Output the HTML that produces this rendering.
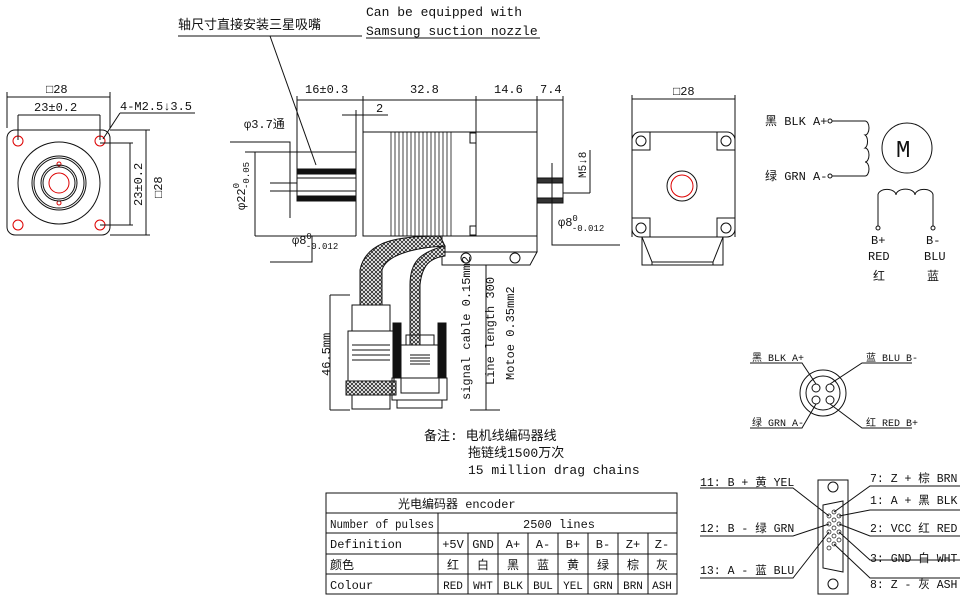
<!DOCTYPE html><html><head><meta charset="utf-8"><style>body{margin:0;background:#fff}svg{display:block}text{font-family:"Liberation Mono","Noto Sans CJK SC",monospace;fill:#111}</style></head><body>
<svg width="965" height="596" viewBox="0 0 965 596" xmlns="http://www.w3.org/2000/svg" stroke="#111" fill="none" stroke-width="1">
<defs><pattern id="h" width="4" height="4" patternUnits="userSpaceOnUse"><rect width="4" height="4" fill="#fff" stroke="none"/><path d="M0 0L4 4M4 0L0 4" stroke="#222" stroke-width="0.8"/></pattern></defs>
<text x="178" y="29" font-size="13" stroke="none">轴尺寸直接安装三星吸嘴</text>
<path d="M178 36H362"/>
<text x="366" y="16" font-size="13" stroke="none">Can be equipped with</text>
<text x="366" y="35" font-size="13" stroke="none">Samsung suction nozzle</text>
<path d="M366 38H540"/>
<path d="M270 36L316 165"/>
<rect x="7" y="130" width="103" height="105" rx="8"/>
<g stroke="#d00"><circle cx="18" cy="141" r="5"/><circle cx="100" cy="141" r="5"/><circle cx="18" cy="225" r="5"/><circle cx="100" cy="225" r="5"/><circle cx="59" cy="183" r="10"/><circle cx="59" cy="164" r="2"/><circle cx="59" cy="203" r="2"/></g>
<circle cx="59" cy="183" r="41"/><circle cx="59" cy="183" r="27"/><circle cx="59" cy="183" r="25"/><circle cx="59" cy="183" r="18"/><circle cx="59" cy="183" r="16"/>
<path d="M7 92V128M110 92V128M7 97H110M18 115V140M100 115V140M18 115H100M100 143H133M100 225H133M130 143V225M110 130H150M110 235H150M146 130V235"/>
<text x="46" y="93" font-size="12" stroke="none">□28</text>
<text x="34" y="111" font-size="12" stroke="none">23±0.2</text>
<text x="120" y="110" font-size="12" stroke="none">4-M2.5↓3.5</text>
<path d="M120 113H195M120 113L103 139"/>
<text transform="translate(142,206) rotate(-90)" font-size="12" stroke="none">23±0.2</text>
<text transform="translate(162,198) rotate(-90)" font-size="12" stroke="none">□28</text>
<rect x="363" y="132" width="174" height="104"/>
<rect x="363" y="132" width="113" height="104"/>
<g stroke-width="0.8"><path d="M391 132V236M395 132V236M399 132V236M403 132V236M407 132V236M411 132V236M415 132V236M419 132V236M423 132V236M427 132V236M431 132V236M435 132V236M439 132V236M443 132V236M447 132V236M451 132V236"/></g>
<rect x="470" y="133" width="6" height="10"/><rect x="470" y="226" width="6" height="9"/>
<path d="M356 143V236"/>
<rect x="297" y="169" width="59" height="5" fill="#111"/><rect x="297" y="196" width="59" height="5" fill="#111"/>
<path d="M297 169V201M297 178H356M297 191H356M230 142H290V218M245 152H356M255 152V236M255 236H356M270 183H297M270 191H297"/>
<rect x="537" y="178" width="26" height="5" fill="#333"/><rect x="537" y="198" width="26" height="5" fill="#333"/>
<path d="M563 178V203M552 163V245H620M563 193H590M590 150V193"/>
<path d="M297 96V170M363 96V132M476 96V132M537 96V132M563 96V178M297 100H363M363 100H476M476 100H537M537 100H563M342 115H388M356 110V145"/>
<path d="M312 236V262H270M270 262H312"/>
<path d="M442 236H537V252H442ZM442 252H537L530 265H442Z"/>
<circle cx="466" cy="258" r="5"/><circle cx="515" cy="258" r="5"/>
<text x="305" y="93" font-size="12" stroke="none">16±0.3</text>
<text x="410" y="93" font-size="12" stroke="none">32.8</text>
<text x="494" y="93" font-size="12" stroke="none">14.6</text>
<text x="540" y="93" font-size="12" stroke="none">7.4</text>
<text x="376" y="112" font-size="12" stroke="none">2</text>
<text x="244" y="128" font-size="12" stroke="none">φ3.7通</text>
<text transform="translate(245,210) rotate(-90)" font-size="12" stroke="none">φ22<tspan font-size="9" dy="-6">0</tspan><tspan font-size="9" dx="-6" dy="10">-0.05</tspan></text>
<text x="292" y="244" font-size="12" stroke="none">φ8<tspan font-size="9" dy="-5">0</tspan><tspan font-size="9" dx="-6" dy="10">-0.012</tspan></text>
<text x="558" y="226" font-size="12" stroke="none">φ8<tspan font-size="9" dy="-5">0</tspan><tspan font-size="9" dx="-6" dy="10">-0.012</tspan></text>
<text transform="translate(586,178) rotate(-90)" font-size="11" stroke="none">M5↓8</text>
<path d="M440 236C400 236 366 240 360 270V305H382V270C386 256 410 248 445 246Z" fill="url(#h)"/>
<path d="M445 246C420 252 410 262 410 285V345H420V285C422 265 430 258 445 256Z" fill="url(#h)"/>
<rect x="352" y="305" width="38" height="26"/><rect x="348" y="331" width="46" height="50"/>
<path d="M352 345H390M352 350H390M352 355H390M352 360H390"/>
<rect x="346" y="381" width="50" height="14" fill="url(#h)"/><rect x="352" y="395" width="38" height="14"/>
<rect x="393" y="323" width="8" height="55" fill="#111"/><rect x="438" y="323" width="8" height="55" fill="#111"/>
<rect x="406" y="335" width="28" height="10"/><rect x="401" y="345" width="38" height="48"/><rect x="392" y="378" width="55" height="22"/><rect x="397" y="400" width="45" height="8"/>
<path d="M410 355H430M410 358H430M410 361H430M410 364H430"/>
<path d="M330 295V410M330 295H350M330 410H350M486 265V410M470 410H500"/>
<text transform="translate(330,376) rotate(-90)" font-size="12" stroke="none">46.5mm</text>
<text transform="translate(470,400) rotate(-90)" font-size="12" stroke="none">signal cable 0.15mm2</text>
<text transform="translate(494,385) rotate(-90)" font-size="12" stroke="none">Line length 300</text>
<text transform="translate(514,380) rotate(-90)" font-size="12" stroke="none">Motoe 0.35mm2</text>
<path d="M632 95V237M735 95V237M632 99H735"/>
<text x="673" y="95" font-size="12" stroke="none">□28</text>
<rect x="632" y="132" width="103" height="105" rx="8"/>
<path d="M632 150H650V132M717 132V150H735M632 218H650V237M717 237V218H735M642 237L652 262H713L723 237M642 237V265H723V237M652 262V265M713 262V265"/>
<g><circle cx="641" cy="141" r="5"/><circle cx="726" cy="141" r="5"/><circle cx="641" cy="228" r="5"/><circle cx="726" cy="228" r="5"/></g>
<circle cx="682" cy="186" r="15"/><circle cx="682" cy="186" r="11" stroke="#d00"/>
<text x="765" y="125" font-size="12" stroke="none">黑 BLK A+</text>
<text x="765" y="180" font-size="12" stroke="none">绿 GRN A-</text>
<circle cx="830" cy="121" r="2"/><circle cx="830" cy="176" r="2"/>
<path d="M832 121H865A4 7 0 0 1 865 135A4 7 0 0 1 865 148A4 7 0 0 1 865 162A4 7 0 0 1 865 176H832"/>
<circle cx="907" cy="148" r="25"/><text x="896" y="157" font-size="24" stroke="none" font-family="Liberation Sans">M</text>
<path d="M878 226V195A8 5 0 0 1 896 195A8 5 0 0 1 915 195A8 5 0 0 1 933 195V226"/>
<circle cx="878" cy="228" r="2"/><circle cx="933" cy="228" r="2"/>
<text x="871" y="244" font-size="12" stroke="none">B+</text><text x="926" y="244" font-size="12" stroke="none">B-</text>
<text x="868" y="260" font-size="12" stroke="none">RED</text><text x="924" y="260" font-size="12" stroke="none">BLU</text>
<text x="873" y="280" font-size="12" stroke="none">红</text><text x="927" y="280" font-size="12" stroke="none">蓝</text>
<circle cx="823" cy="393" r="23"/><circle cx="823" cy="393" r="17"/>
<circle cx="816" cy="388" r="4"/><circle cx="830" cy="388" r="4"/><circle cx="816" cy="400" r="4"/><circle cx="830" cy="400" r="4"/>
<path d="M750 363H802L816 384M912 363H862L830 384M750 428H802L816 404M912 428H862L830 404"/>
<text x="752" y="361" font-size="10" stroke="none">黑 BLK A+</text><text x="866" y="361" font-size="10" stroke="none">蓝 BLU B-</text>
<text x="752" y="426" font-size="10" stroke="none">绿 GRN A-</text><text x="866" y="426" font-size="10" stroke="none">红 RED B+</text>
<text x="424" y="440" font-size="13" stroke="none">备注: 电机线编码器线</text>
<text x="468" y="457" font-size="13" stroke="none">拖链线1500万次</text>
<text x="468" y="474" font-size="13" stroke="none">15 million drag chains</text>
<g stroke-width="1"><rect x="326" y="493" width="351" height="101"/>
<path d="M326 513H677M326 533H677M326 554H677M326 574H677M438 513V594M468 533V594M498 533V594M528 533V594M558 533V594M588 533V594M618 533V594M648 533V594"/></g>
<g font-size="12" stroke="none"><text x="398" y="508">光电编码器   encoder</text>
<text x="330" y="528" textLength="104" lengthAdjust="spacingAndGlyphs">Number of pulses</text><text x="523" y="528">2500 lines</text>
<text x="330" y="548">Definition</text><text x="330" y="569">颜色</text><text x="330" y="589">Colour</text>
<g text-anchor="middle"><text x="453" y="548">+5V</text><text x="483" y="548">GND</text><text x="513" y="548">A+</text><text x="543" y="548">A-</text><text x="573" y="548">B+</text><text x="603" y="548">B-</text><text x="633" y="548">Z+</text><text x="662" y="548">Z-</text>
<text x="453" y="569">红</text><text x="483" y="569">白</text><text x="513" y="569">黑</text><text x="543" y="569">蓝</text><text x="573" y="569">黄</text><text x="603" y="569">绿</text><text x="633" y="569">棕</text><text x="662" y="569">灰</text>
<g font-size="11"><text x="453" y="589">RED</text><text x="483" y="589">WHT</text><text x="513" y="589">BLK</text><text x="543" y="589">BUL</text><text x="573" y="589">YEL</text><text x="603" y="589">GRN</text><text x="633" y="589">BRN</text><text x="662" y="589">ASH</text></g></g></g>
<path d="M818 480H848V594H818Z"/>
<path d="M823 505L843 501V572L823 568Z"/>
<circle cx="833" cy="487" r="5"/><circle cx="833" cy="584" r="5"/>
<g stroke-width="0.7"><circle cx="829" cy="516" r="2"/><circle cx="829" cy="524" r="2"/><circle cx="829" cy="532" r="2"/><circle cx="829" cy="540" r="2"/><circle cx="829" cy="548" r="2"/><circle cx="834" cy="512" r="2"/><circle cx="834" cy="520" r="2"/><circle cx="834" cy="528" r="2"/><circle cx="834" cy="536" r="2"/><circle cx="834" cy="544" r="2"/><circle cx="839" cy="516" r="2"/><circle cx="839" cy="524" r="2"/><circle cx="839" cy="532" r="2"/><circle cx="839" cy="540" r="2"/></g>
<path d="M700 488H793L829 516M700 536H793L829 524M700 578H793L829 532M960 486H870L834 512M960 510H870L839 516M960 536H870L839 524M960 560H870L839 532M960 578H870L834 544"/>
<g font-size="11.5" stroke="none"><text x="700" y="486">11: B + 黄 YEL</text><text x="700" y="532">12: B - 绿 GRN</text><text x="700" y="574">13: A - 蓝 BLU</text>
<text x="870" y="482">7: Z + 棕 BRN</text><text x="870" y="504">1: A + 黑 BLK</text><text x="870" y="532">2: VCC 红 RED</text><text x="870" y="562">3: GND 白 WHT</text><text x="870" y="588">8: Z - 灰 ASH</text></g>
</svg></body></html>
